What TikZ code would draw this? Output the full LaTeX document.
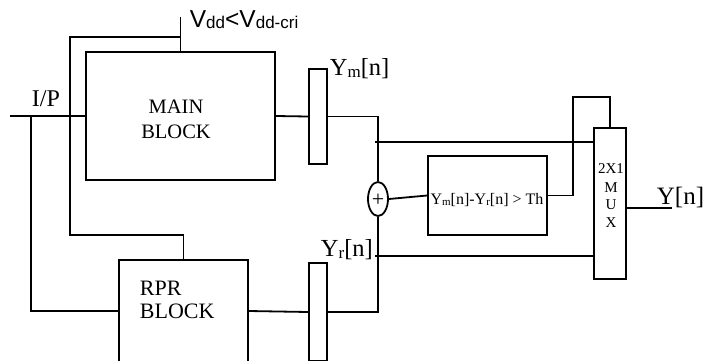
\documentclass[tikz,border=0pt]{standalone}
\usepackage{fontspec}
\setmainfont{Liberation Serif}
\newfontfamily\arialf{Liberation Sans}
\usetikzlibrary{shapes.geometric}
\newcommand\fsz[1]{\fontsize{#1}{#1}\selectfont}
\newcommand\lsub[3]{\raisebox{-#1}{\fsz{#2}#3}}
\begin{document}
\begin{tikzpicture}[x=1pt,y=-1pt,line width=1.8pt,
  box/.style={draw,rectangle,inner sep=0pt},
  lbl/.style={inner sep=0pt,anchor=base}]
\useasboundingbox (0,0) rectangle (705,360);
\clip (0,0) rectangle (705,360);
% blocks
\node[box,minimum width=189pt,minimum height=128pt] (main) at (180.5,116) {};
\node[box,minimum width=18pt,minimum height=95pt] (regm) at (318,116.5) {};
\node[box,minimum width=129pt,minimum height=102pt] (rpr) at (183.5,311) {};
\node[box,minimum width=18pt,minimum height=98pt] (regr) at (318,312) {};
\node[draw,ellipse,minimum width=20pt,minimum height=34pt,inner sep=0pt] (sum) at (378,199) {};
\node[lbl] (plus) at (378,206.5) {\fsz{22}+};
\node[box,minimum width=119pt,minimum height=79pt] (thr) at (487.5,195.5) {};
\node[box,minimum width=32pt,minimum height=151pt] (mux) at (610,203.5) {};
% texts
\node[lbl] (t1) at (176,113.5) {\fsz{20.5}MAIN};
\node[lbl] (t2) at (176,138) {\fsz{20.5}BLOCK};
\node[lbl,anchor=base west] (t3) at (139,295) {\fsz{22}RPR};
\node[lbl,anchor=base west] (t4) at (139,318.5) {\fsz{22}BLOCK};
\node[lbl] (tip) at (46,106) {\fsz{24}I/P};
\node[lbl,anchor=base west] (tvdd) at (189,27) {\arialf\fsz{24.5}V\lsub{1pt}{17}{dd}<V\lsub{1pt}{17}{dd-cri}};
\node[lbl,anchor=base west] (tym) at (329,75.5) {\fsz{24.5}Y\lsub{2pt}{17}{m}[n]};
\node[lbl,anchor=base west] (tyr) at (320,256) {\fsz{24.5}Y\lsub{2pt}{17}{r}[n]};
\node[lbl,anchor=base west] (tyo) at (656,204) {\fsz{25}Y[n]};
\node[lbl] (tth) at (487,204) {\fsz{16}Y\lsub{1pt}{11}{m}[n]-Y\lsub{1pt}{11}{r}[n] {>} Th};
\node[lbl] (m1) at (611,173) {\fsz{15}2X1};
\node[lbl] (m2) at (611,192) {\fsz{15}M};
\node[lbl] (m3) at (611,209) {\fsz{15}U};
\node[lbl] (m4) at (611,227) {\fsz{15}X};
% coordinates
\coordinate (ipin) at (10,116);
\coordinate (ipt) at (31,116);
\coordinate (vddtop) at (180.5,17);
\coordinate (vb) at (180.5,37);
\coordinate (ym) at (375,142);
\coordinate (yr) at (375,256);
\coordinate (lp) at (573,97);
\coordinate (yout) at (672,208);
% connectors
\draw (ipin) -- (main.west);
\draw (ipt) |- (rpr.west);
\draw (main.north) -- (vddtop);
\draw (vb) -- (70,37) -- (70,235) -| (rpr.north);
\draw (main.east) -- (regm.west);
\draw (regm.east) -| (sum.north);
\draw (ym) -- (ym -| mux.west);
\draw (yr) -- (yr -| mux.west);
\draw (sum.east) -- (thr.west);
\draw (thr.east) -| (lp) -| (mux.north);
\draw (rpr.east) -- (regr.west);
\draw (regr.east) -| (sum.south);
\draw (mux.east |- yout) -- (yout);
\end{tikzpicture}
\end{document}
